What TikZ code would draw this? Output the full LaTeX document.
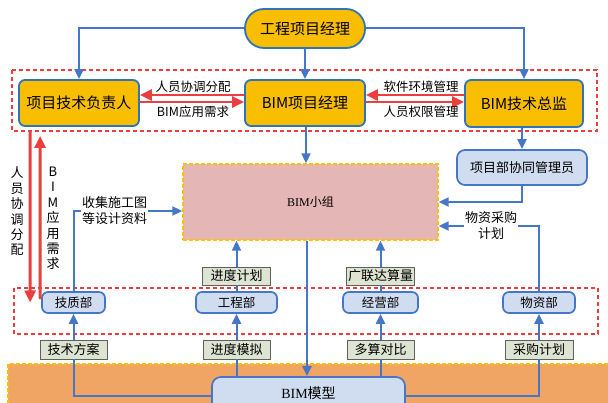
\documentclass[tikz,border=0pt]{standalone}
\usepackage{fontspec}
\setmainfont{Noto Sans CJK SC}
\newfontfamily\latserif{Liberation Serif}
\usetikzlibrary{arrows.meta}
\definecolor{ygold}{RGB}{250,190,0}
\definecolor{nblue}{RGB}{46,117,182}
\definecolor{lblue}{RGB}{70,118,200}
\definecolor{pblue}{RGB}{208,220,240}
\definecolor{pinkg}{RGB}{228,183,182}
\definecolor{orng}{RGB}{241,165,100}
\definecolor{labfill}{RGB}{222,228,210}
\definecolor{labdraw}{RGB}{95,95,95}
\definecolor{redl}{RGB}{235,62,62}
\definecolor{dashy}{RGB}{255,192,0}
\tikzset{
  ybox/.style={draw=nblue, line width=1.8pt, fill=ygold, rounded corners=6pt, inner sep=0pt, font=\fontsize{15}{18}\selectfont},
  bbox/.style={draw=lblue, line width=1.7pt, fill=pblue, rounded corners=6pt, inner sep=0pt},
  labbox/.style={draw=labdraw, line width=0.6pt, fill=labfill, inner sep=0pt, minimum height=18pt, font=\fontsize{13}{15}\selectfont},
  wlab/.style={fill=white, inner sep=1pt, align=center, font=\fontsize{13}{15.5}\selectfont},
  rlab/.style={inner sep=0pt, font=\fontsize{12.5}{15}\selectfont},
  vlab/.style={inner sep=0pt, align=center, font=\fontsize{13}{15.4}\selectfont},
  bline/.style={draw=lblue, line width=2pt},
  barrow/.style={bline, -{Triangle[length=10pt,width=9pt]}},
  rarrow/.style={draw=redl, line width=2.8pt, -{Triangle[length=12pt,width=11pt]}},
  reddash/.style={draw=redl, line width=1.2pt, dash pattern=on 4pt off 3pt},
}
\begin{document}
\begin{tikzpicture}[x=1pt,y=-1pt]
\useasboundingbox (0,0) rectangle (608,403);
% orange base area
\fill[orng] (8,364) rectangle (615,410);
\draw[dashy, line width=1.2pt, dash pattern=on 4pt off 2pt] (8,410) -- (8,364) -- (615,364);
% dashed red frames
\draw[reddash] (12,70) rectangle (597,131);
\draw[reddash] (14,288) rectangle (598,334);

% nodes
\node[ybox, rounded corners=19pt, minimum width=120pt, minimum height=39pt] (top) at (305,28.5) {工程项目经理};
\node[ybox, minimum width=120pt, minimum height=46pt] (tech) at (79,103) {项目技术负责人};
\node[ybox, minimum width=120pt, minimum height=46pt] (pm) at (305,103) {BIM项目经理};
\node[ybox, minimum width=118pt, minimum height=47pt] (dir) at (524,103.5) {BIM技术总监};
\node[bbox, rounded corners=8pt, minimum width=130pt, minimum height=35pt, font=\fontsize{13}{15}\selectfont] (coord) at (522,167.5) {项目部协同管理员};
\node[draw=dashy, line width=1.4pt, dash pattern=on 4pt off 2pt, fill=pinkg, minimum width=255pt, minimum height=76pt, inner sep=0pt, font=\fontsize{12}{14}\selectfont] (grp) at (310.5,202) {{\latserif BIM}小组};

\node[bbox, minimum width=63pt, minimum height=21pt, font=\fontsize{12.5}{15}\selectfont] (jz) at (73.5,302.5) {技质部};
\node[bbox, minimum width=81pt, minimum height=21pt, font=\fontsize{12.5}{15}\selectfont] (gc) at (236.5,302.5) {工程部};
\node[bbox, minimum width=75pt, minimum height=21pt, font=\fontsize{12.5}{15}\selectfont] (jy) at (380.5,302.5) {经营部};
\node[bbox, minimum width=72pt, minimum height=21pt, font=\fontsize{12.5}{15}\selectfont] (wz) at (539,302.5) {物资部};

\node[labbox, minimum width=68pt] (jd) at (236.5,276) {进度计划};
\node[labbox, minimum width=68pt] (gl) at (380.5,276) {广联达算量};
\node[labbox, minimum width=67pt, minimum height=19pt] (js) at (73.5,349.5) {技术方案};
\node[labbox, minimum width=67pt, minimum height=19pt] (jm) at (236.5,349.5) {进度模拟};
\node[labbox, minimum width=67pt, minimum height=19pt] (dc) at (380.5,349.5) {多算对比};
\node[labbox, minimum width=68pt, minimum height=19pt] (cg) at (539,349.5) {采购计划};

\node[bbox, rounded corners=9pt, minimum width=193pt, minimum height=42pt] (model) at (308.5,398) {};
\node[inner sep=0pt, font=\fontsize{14}{16}\selectfont] (modeltxt) at (308.5,393.5) {{\latserif BIM}模型};

% top connectors
\draw[barrow] (top.west) -| (tech.north);
\draw[barrow] (top.east) -| (dir.north);
\draw[barrow] (top.south) -- (pm.north);

% red arrows in row 2
\draw[rarrow] ([yshift=8pt]pm.west) -- ([yshift=8pt]tech.east);
\draw[rarrow] ([yshift=1pt]tech.east) -- ([yshift=1pt]pm.west);
\draw[rarrow] ([yshift=8.5pt]dir.west) -- ([yshift=8pt]pm.east);
\draw[rarrow] ([yshift=1pt]pm.east) -- ([yshift=1.5pt]dir.west);
\node[rlab] (l1) at (193,87) {人员协调分配};
\node[rlab] (l2) at (193,112) {BIM应用需求};
\node[rlab] (l3) at (421,86.5) {软件环境管理};
\node[rlab] (l4) at (421,112) {人员权限管理};

% BIM group connectors
\draw[barrow] ([xshift=1pt]pm.south) -- ([xshift=1pt]pm.south |- grp.north);
\draw[barrow] (dir.south -| coord.north) -- (coord.north);
\draw[barrow] (coord.south) |- (grp.east);
\draw[barrow] (wz.north) |- ([yshift=-24pt]grp.east);
\node[wlab] (wzl) at (491,225.5) {物资采购\\计划};
\draw[barrow] (jz.north) |- ([yshift=-9pt]grp.west);
\node[wlab] (sjl) at (114.5,210.5) {收集施工图\\等设计资料};

% red vertical arrows
\draw[rarrow] ([xshift=12pt,yshift=-5pt]tech.south west) -- ([xshift=-11pt]jz.west);
\draw[rarrow] ([xshift=-1pt,yshift=-8pt]jz.north west) -- ([xshift=22pt,yshift=-9pt]tech.south west);
\node[vlab] (v1) at (17,211.5) {人\\员\\协\\调\\分\\配};
\node[vlab] (v2) at (53,218.5) {B\\I\\M\\应\\用\\需\\求};

% row 3 upward
\draw[bline] (gc.north) -- (jd.south);
\draw[barrow] (jd.north) -- (jd.north |- grp.south);
\draw[bline] (jy.north) -- (gl.south);
\draw[barrow] (gl.north) -- (gl.north |- grp.south);

% central line
\draw[barrow] ([xshift=2pt]pm.south |- grp.south) -- ([xshift=2pt]pm.south |- model.north);

% model connectors
\draw[bline] ([yshift=2pt]model.west) -| (js.south);
\draw[barrow] (js.north) -- (jz.south);
\draw[bline] (model.north -| jm.south) -- (jm.south);
\draw[barrow] (jm.north) -- (gc.south);
\draw[bline] (model.north -| dc.south) -- (dc.south);
\draw[barrow] (dc.north) -- (jy.south);
\draw[bline] ([yshift=2pt]model.east) -| (cg.south);
\draw[barrow] (cg.north) -- (wz.south);
\end{tikzpicture}
\end{document}
